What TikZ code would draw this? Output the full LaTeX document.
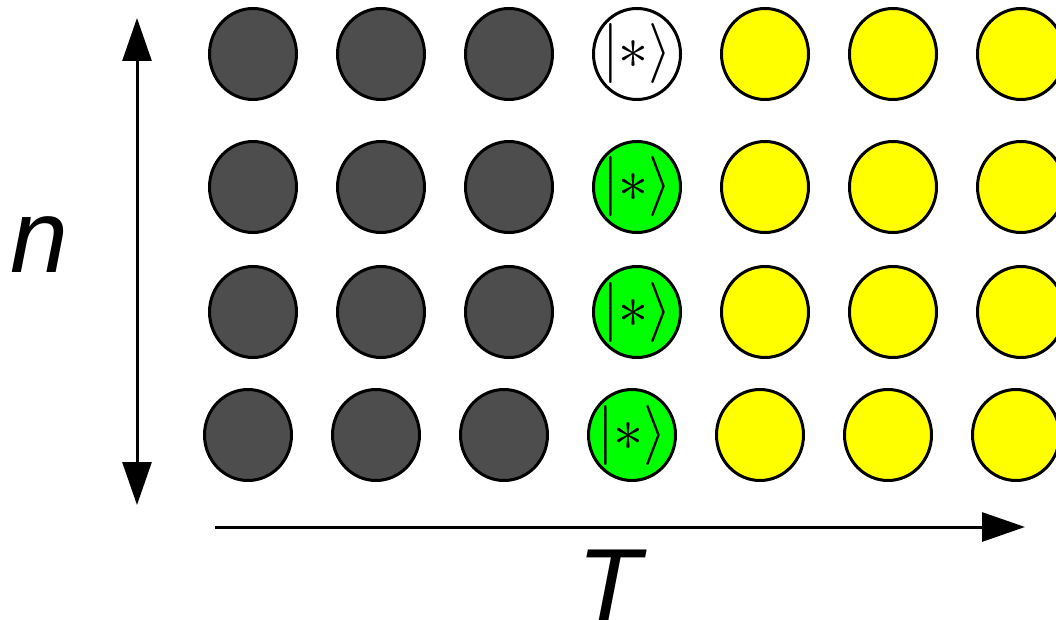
\RequirePackage{fix-cm}
\documentclass[tikz,border=0pt]{standalone}
\usepackage{fontspec}
\setmainfont{Liberation Sans}
\usetikzlibrary{arrows.meta,shapes.geometric}
\definecolor{qdark}{HTML}{4D4D4D}
\definecolor{qyellow}{HTML}{FFFF00}
\definecolor{qgreen}{HTML}{00FF00}

\begin{document}
\begin{tikzpicture}[
   x=1pt, y=-1pt,
   site/.style={ellipse, draw=black, line width=3pt, inner sep=0pt,
                minimum width=87pt, minimum height=91pt},
   ket/.style={label={[font=\fontsize{60}{60}\selectfont, inner sep=0pt]center:$|{\ast}\rangle$}},
   axis/.style={line width=3pt},
   axlabel/.style={font=\fontsize{104}{104}\selectfont\itshape, inner sep=0pt},
]
  \useasboundingbox (0,0) rectangle (1056,620);
  \clip (0,0) rectangle (1056,620);

  % sites: rows from top, last row sits a little to the left
  \foreach \r/\y/\dx/\mid in {1/54/0/white, 2/187/0/qgreen, 3/312/0/qgreen, 4/435/-5/qgreen}{
    \foreach \c in {1,2,3}
      \node[site, fill=qdark] (s-\r-\c) at ({253+128*(\c-1)+\dx}, \y) {};
    \node[site, ket, fill=\mid] (s-\r-4) at ({637+\dx}, \y) {};
    \foreach \c in {5,6,7}
      \node[site, fill=qyellow] (s-\r-\c) at ({253+128*(\c-1)+\dx}, \y) {};
  }

  % axes
  \coordinate (ntop) at (137,18);
  \coordinate (nbot) at (137,505);
  \coordinate (tleft) at (215,527);
  \coordinate (tright) at (1025,527);
  \draw[axis, {Triangle[length=43pt, width=29pt]}-{Triangle[length=43pt, width=29pt]}] (ntop) -- (nbot);
  \draw[axis, -{Triangle[length=43pt, width=29pt]}] (tleft) -- (tright);

  \node[axlabel] (nlab) at (39,245) {n};
  \node[axlabel] (tlab) at (609,586) {T};
\end{tikzpicture}
\end{document}
